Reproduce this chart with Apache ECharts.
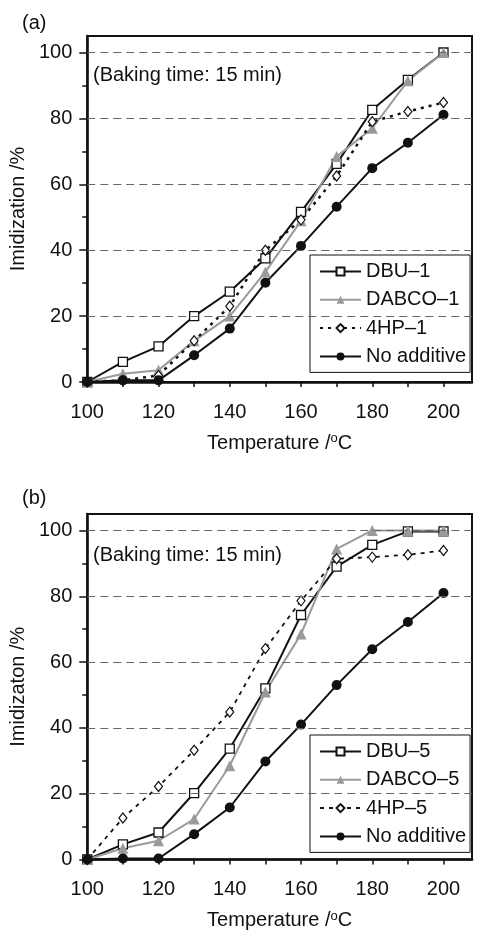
<!DOCTYPE html>
<html>
<head>
<meta charset="utf-8">
<script src="https://cdn.jsdelivr.net/npm/echarts@6/dist/echarts.min.js"></script>
<style>html,body{margin:0;padding:0;background:#fff;}#c{width:477px;height:932px;}</style>
</head>
<body>
<div id="c"></div>
<script>
const temps = [100,110,120,130,140,150,160,170,180,190,200];
const dbu1   = [0,6.1,10.8,20.0,27.4,37.5,51.6,66.2,82.6,91.7,100];
const dabco1 = [0,2.5,3.6,12.5,20.0,33.4,48.9,68.4,77.0,91.4,100];
const hp1    = [0,0.5,2.0,12.5,23.0,40.0,49.2,62.5,79.0,82.1,84.8];
const noAddA = [0,0.5,0.5,8.1,16.2,30.1,41.3,53.2,64.9,72.6,81.1];
const dbu5   = [0,4.6,8.2,20.2,33.7,52.0,74.3,89.0,95.6,99.7,99.7];
const dabco5 = [0,3.4,5.7,12.3,28.5,50.9,68.5,94.4,100,100,100];
const hp5    = [0,12.6,22.2,33.2,44.8,64.1,78.6,91.4,91.9,92.6,93.9];
const noAddB = [0,0.3,0.3,7.7,15.8,29.8,41.0,53.0,63.9,72.2,81.0];

const xTickVals  = [100,110,120,130,140,150,160,170,180,190,200];
const xLabelVals = [100,120,140,160,180,200];
const yTickVals  = [0,20,40,60,80,100];
const yMinorVals = [10,30,50,70,90];
const gridVals   = [20,40,60,80,100];

const FONT = "'Liberation Sans', Arial, sans-serif";
const BLACK = '#111';
const GRAY = '#9a9a9a';

function zip(vals){ return temps.map((t,i)=>[t, vals[i]]); }

function xAxisCfg(gi){
  return {
    type:'value', gridIndex:gi, min:100, max:208, interval:10,
    axisLine:{show:true, onZero:false, lineStyle:{color:BLACK, width:2.5}},
    axisTick:{show:true, inside:false, length:5, customValues:xTickVals, lineStyle:{color:BLACK, width:1.5}},
    axisLabel:{show:true, customValues:xLabelVals, margin:20, fontSize:20, color:BLACK, fontFamily:FONT},
    splitLine:{show:false},
    name:'Temperature /{sup|o}C', nameLocation:'middle', nameGap:50,
    nameTextStyle:{fontSize:20, color:BLACK, fontFamily:FONT,
      rich:{sup:{fontSize:13, color:BLACK, fontFamily:FONT, padding:[0,0,9,0]}}}
  };
}
function yAxisCfg(gi, name){
  return {
    type:'value', gridIndex:gi, min:0, max:105, interval:20,
    axisLine:{show:true, onZero:false, lineStyle:{color:BLACK, width:2.5}},
    axisTick:{show:true, inside:false, length:8, customValues:yTickVals, lineStyle:{color:BLACK, width:1.5}},
    axisLabel:{show:true, customValues:yTickVals, margin:15, fontSize:20, color:BLACK, fontFamily:FONT},
    splitLine:{show:false},
    name:name, nameLocation:'middle', nameGap:47,
    nameTextStyle:{fontSize:20, color:BLACK, fontFamily:FONT}
  };
}
function yMinorCfg(gi){
  return {
    type:'value', gridIndex:gi, min:0, max:105, interval:10, position:'left',
    axisLine:{show:false},
    axisTick:{show:true, inside:false, length:5, customValues:yMinorVals, lineStyle:{color:BLACK, width:1.5}},
    axisLabel:{show:false}, splitLine:{show:false}
  };
}

function gridMarkLine(){
  return {
    silent:true, symbol:['none','none'], label:{show:false},
    lineStyle:{color:'#666', type:[8,5], width:1},
    data: gridVals.map(v=>({yAxis:v}))
  };
}

function mkSeries(name, vals, gi, kind, withGrid){
  const s = {name:name, type:'line', xAxisIndex:gi, yAxisIndex:gi, data:zip(vals), z:3};
  if(kind==='dbu'){
    s.symbol='rect'; s.symbolSize=9;
    s.lineStyle={color:BLACK, width:2};
    s.itemStyle={color:'#fff', borderColor:BLACK, borderWidth:1.3};
  } else if(kind==='dabco'){
    s.symbol='triangle'; s.symbolSize=11;
    s.lineStyle={color:GRAY, width:2};
    s.itemStyle={color:GRAY, borderColor:GRAY, borderWidth:0};
  } else if(kind==='hp1' || kind==='hp5'){
    s.symbol='diamond'; s.symbolSize=[8,10];
    s.lineStyle= kind==='hp1' ? {color:BLACK, width:2.5, type:[3,5]} : {color:BLACK, width:1.8, type:[4,5]};
    s.itemStyle={color:'#fff', borderColor:BLACK, borderWidth:1.2};
  } else {
    s.symbol='circle'; s.symbolSize=10;
    s.lineStyle={color:BLACK, width:2};
    s.itemStyle={color:BLACK, borderColor:BLACK, borderWidth:0};
  }
  if(withGrid){ s.markLine = gridMarkLine(); }
  return s;
}

function legendCfg(names, top){
  return {
    data:names, orient:'vertical', left:310, top:top,
    itemWidth:41, itemHeight:10, itemGap:8.3,
    padding:[6.5,4,6,9],
    borderColor:BLACK, borderWidth:1, backgroundColor:'#fff',
    textStyle:{fontSize:20, color:BLACK, fontFamily:FONT, lineHeight:20},
    selectedMode:false
  };
}

const chart = echarts.init(document.getElementById('c'), null, {renderer:'canvas'});
chart.setOption({
  animation:false,
  backgroundColor:'#fff',
  textStyle:{fontFamily:FONT},
  grid:[
    {left:81, top:36, width:391, height:346, show:true, borderColor:BLACK, borderWidth:2, backgroundColor:'transparent'},
    {left:81, top:514, width:391, height:345.5, show:true, borderColor:BLACK, borderWidth:2, backgroundColor:'transparent'}
  ],
  xAxis:[xAxisCfg(0), xAxisCfg(1)],
  yAxis:[yAxisCfg(0,'Imidization /%'), yAxisCfg(1,'Imidizaton /%'), yMinorCfg(0), yMinorCfg(1)],
  legend:[
    legendCfg(['DBU–1','DABCO–1','4HP–1','No additive'], 255),
    legendCfg(['DBU–5','DABCO–5','4HP–5','No additive'], 735)
  ],
  graphic:[
    {type:'text', left:22, top:13, style:{text:'(a)', fontSize:20, fill:BLACK, fontFamily:FONT}},
    {type:'text', left:22, top:488, style:{text:'(b)', fontSize:20, fill:BLACK, fontFamily:FONT}},
    {type:'text', left:93, top:65, style:{text:'(Baking time: 15 min)', fontSize:20, fill:BLACK, fontFamily:FONT}},
    {type:'text', left:93, top:545, style:{text:'(Baking time: 15 min)', fontSize:20, fill:BLACK, fontFamily:FONT}}
  ],
  series:[
    mkSeries('DBU–1', dbu1, 0, 'dbu', true),
    mkSeries('DABCO–1', dabco1, 0, 'dabco'),
    mkSeries('4HP–1', hp1, 0, 'hp1'),
    mkSeries('No additive', noAddA, 0, 'none'),
    mkSeries('DBU–5', dbu5, 1, 'dbu', true),
    mkSeries('DABCO–5', dabco5, 1, 'dabco'),
    mkSeries('4HP–5', hp5, 1, 'hp5'),
    mkSeries('No additive', noAddB, 1, 'none')
  ]
});
</script>
</body>
</html>
